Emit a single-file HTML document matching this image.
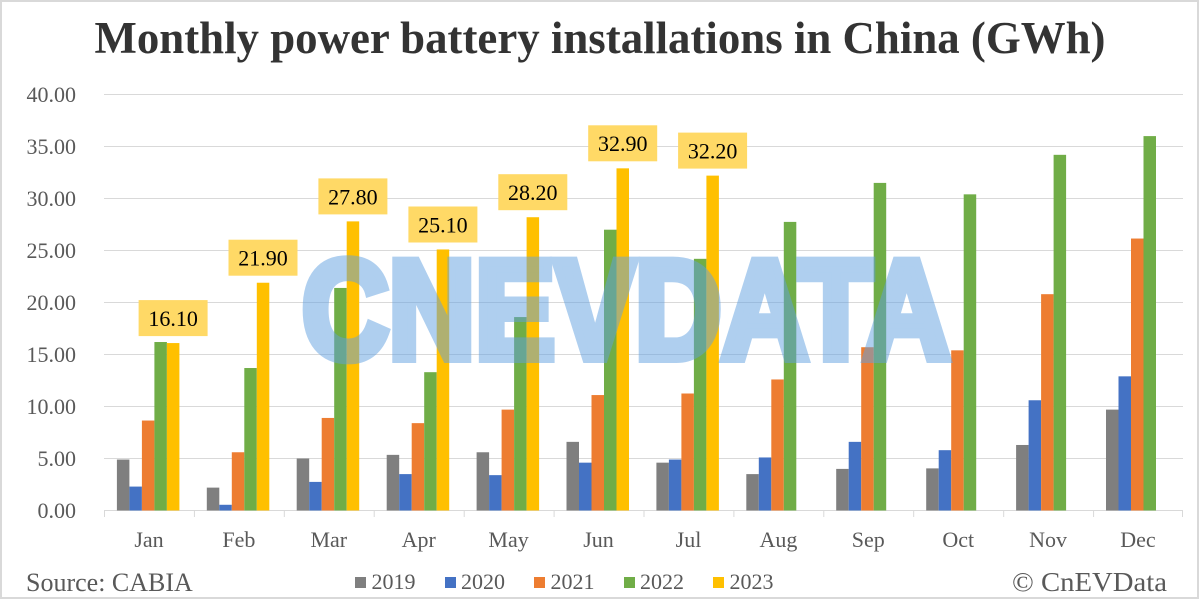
<!DOCTYPE html>
<html><head><meta charset="utf-8"><style>
html,body{margin:0;padding:0;background:#fff;}
svg{display:block;}
</style></head><body>
<svg width="1200" height="601" viewBox="0 0 1200 601" xmlns="http://www.w3.org/2000/svg">
<rect x="0" y="0" width="1200" height="601" fill="#fff"/>
<rect x="1" y="1" width="1197" height="597" fill="none" stroke="#d9d9d9" stroke-width="2"/>
<text x="600" y="53" text-anchor="middle" font-family="Liberation Serif, serif" font-weight="bold" font-size="45" fill="#333" textLength="1011" lengthAdjust="spacingAndGlyphs">Monthly power battery installations in China (GWh)</text>
<g stroke="#d9d9d9" stroke-width="1">
<line x1="104" y1="94.5" x2="1183" y2="94.5"/>
<line x1="104" y1="146.5" x2="1183" y2="146.5"/>
<line x1="104" y1="198.5" x2="1183" y2="198.5"/>
<line x1="104" y1="250.5" x2="1183" y2="250.5"/>
<line x1="104" y1="302.5" x2="1183" y2="302.5"/>
<line x1="104" y1="354.5" x2="1183" y2="354.5"/>
<line x1="104" y1="406.5" x2="1183" y2="406.5"/>
<line x1="104" y1="458.5" x2="1183" y2="458.5"/>
<line x1="104" y1="510.5" x2="1183" y2="510.5"/>
<line x1="104.5" y1="510" x2="104.5" y2="517"/>
<line x1="194.4" y1="510" x2="194.4" y2="517"/>
<line x1="284.3" y1="510" x2="284.3" y2="517"/>
<line x1="374.2" y1="510" x2="374.2" y2="517"/>
<line x1="464.2" y1="510" x2="464.2" y2="517"/>
<line x1="554.1" y1="510" x2="554.1" y2="517"/>
<line x1="644" y1="510" x2="644" y2="517"/>
<line x1="733.9" y1="510" x2="733.9" y2="517"/>
<line x1="823.8" y1="510" x2="823.8" y2="517"/>
<line x1="913.7" y1="510" x2="913.7" y2="517"/>
<line x1="1003.7" y1="510" x2="1003.7" y2="517"/>
<line x1="1093.6" y1="510" x2="1093.6" y2="517"/>
<line x1="1182.5" y1="510" x2="1182.5" y2="517"/>
</g>
<g font-family="Liberation Serif, serif" font-size="22" fill="#595959" text-anchor="end">
<text x="76" y="102">40.00</text>
<text x="76" y="154">35.00</text>
<text x="76" y="206">30.00</text>
<text x="76" y="258">25.00</text>
<text x="76" y="310">20.00</text>
<text x="76" y="362">15.00</text>
<text x="76" y="414">10.00</text>
<text x="76" y="466">5.00</text>
<text x="76" y="518">0.00</text>
</g>
<g font-family="Liberation Serif, serif" font-size="22" fill="#595959" text-anchor="middle">
<text x="149" y="547">Jan</text>
<text x="238.9" y="547">Feb</text>
<text x="328.8" y="547">Mar</text>
<text x="418.7" y="547">Apr</text>
<text x="508.6" y="547">May</text>
<text x="598.5" y="547">Jun</text>
<text x="688.5" y="547">Jul</text>
<text x="778.4" y="547">Aug</text>
<text x="868.3" y="547">Sep</text>
<text x="958.2" y="547">Oct</text>
<text x="1048.1" y="547">Nov</text>
<text x="1138" y="547">Dec</text>
</g>
<g transform="translate(116.9,510.5) scale(1,-10.4)"><rect x="0" y="0" width="12.5" height="4.9" fill="#7f7f7f"/><rect x="12.5" y="0" width="12.5" height="2.3" fill="#4472c4"/><rect x="25" y="0" width="12.5" height="8.65" fill="#ed7d31"/><rect x="37.5" y="0" width="12.5" height="16.2" fill="#70ad47"/><rect x="50" y="0" width="12.5" height="16.1" fill="#ffc000"/></g>
<g transform="translate(206.8,510.5) scale(1,-10.4)"><rect x="0" y="0" width="12.5" height="2.2" fill="#7f7f7f"/><rect x="12.5" y="0" width="12.5" height="0.55" fill="#4472c4"/><rect x="25" y="0" width="12.5" height="5.6" fill="#ed7d31"/><rect x="37.5" y="0" width="12.5" height="13.7" fill="#70ad47"/><rect x="50" y="0" width="12.5" height="21.9" fill="#ffc000"/></g>
<g transform="translate(296.7,510.5) scale(1,-10.4)"><rect x="0" y="0" width="12.5" height="5.0" fill="#7f7f7f"/><rect x="12.5" y="0" width="12.5" height="2.75" fill="#4472c4"/><rect x="25" y="0" width="12.5" height="8.9" fill="#ed7d31"/><rect x="37.5" y="0" width="12.5" height="21.4" fill="#70ad47"/><rect x="50" y="0" width="12.5" height="27.8" fill="#ffc000"/></g>
<g transform="translate(386.7,510.5) scale(1,-10.4)"><rect x="0" y="0" width="12.5" height="5.35" fill="#7f7f7f"/><rect x="12.5" y="0" width="12.5" height="3.5" fill="#4472c4"/><rect x="25" y="0" width="12.5" height="8.4" fill="#ed7d31"/><rect x="37.5" y="0" width="12.5" height="13.3" fill="#70ad47"/><rect x="50" y="0" width="12.5" height="25.1" fill="#ffc000"/></g>
<g transform="translate(476.6,510.5) scale(1,-10.4)"><rect x="0" y="0" width="12.5" height="5.6" fill="#7f7f7f"/><rect x="12.5" y="0" width="12.5" height="3.4" fill="#4472c4"/><rect x="25" y="0" width="12.5" height="9.7" fill="#ed7d31"/><rect x="37.5" y="0" width="12.5" height="18.6" fill="#70ad47"/><rect x="50" y="0" width="12.5" height="28.2" fill="#ffc000"/></g>
<g transform="translate(566.5,510.5) scale(1,-10.4)"><rect x="0" y="0" width="12.5" height="6.6" fill="#7f7f7f"/><rect x="12.5" y="0" width="12.5" height="4.6" fill="#4472c4"/><rect x="25" y="0" width="12.5" height="11.1" fill="#ed7d31"/><rect x="37.5" y="0" width="12.5" height="27.0" fill="#70ad47"/><rect x="50" y="0" width="12.5" height="32.9" fill="#ffc000"/></g>
<g transform="translate(656.4,510.5) scale(1,-10.4)"><rect x="0" y="0" width="12.5" height="4.6" fill="#7f7f7f"/><rect x="12.5" y="0" width="12.5" height="4.9" fill="#4472c4"/><rect x="25" y="0" width="12.5" height="11.25" fill="#ed7d31"/><rect x="37.5" y="0" width="12.5" height="24.2" fill="#70ad47"/><rect x="50" y="0" width="12.5" height="32.2" fill="#ffc000"/></g>
<g transform="translate(746.3,510.5) scale(1,-10.4)"><rect x="0" y="0" width="12.5" height="3.5" fill="#7f7f7f"/><rect x="12.5" y="0" width="12.5" height="5.1" fill="#4472c4"/><rect x="25" y="0" width="12.5" height="12.6" fill="#ed7d31"/><rect x="37.5" y="0" width="12.5" height="27.75" fill="#70ad47"/></g>
<g transform="translate(836.2,510.5) scale(1,-10.4)"><rect x="0" y="0" width="12.5" height="4.0" fill="#7f7f7f"/><rect x="12.5" y="0" width="12.5" height="6.6" fill="#4472c4"/><rect x="25" y="0" width="12.5" height="15.7" fill="#ed7d31"/><rect x="37.5" y="0" width="12.5" height="31.5" fill="#70ad47"/></g>
<g transform="translate(926.2,510.5) scale(1,-10.4)"><rect x="0" y="0" width="12.5" height="4.05" fill="#7f7f7f"/><rect x="12.5" y="0" width="12.5" height="5.8" fill="#4472c4"/><rect x="25" y="0" width="12.5" height="15.4" fill="#ed7d31"/><rect x="37.5" y="0" width="12.5" height="30.4" fill="#70ad47"/></g>
<g transform="translate(1016.1,510.5) scale(1,-10.4)"><rect x="0" y="0" width="12.5" height="6.3" fill="#7f7f7f"/><rect x="12.5" y="0" width="12.5" height="10.6" fill="#4472c4"/><rect x="25" y="0" width="12.5" height="20.8" fill="#ed7d31"/><rect x="37.5" y="0" width="12.5" height="34.2" fill="#70ad47"/></g>
<g transform="translate(1106,510.5) scale(1,-10.4)"><rect x="0" y="0" width="12.5" height="9.7" fill="#7f7f7f"/><rect x="12.5" y="0" width="12.5" height="12.9" fill="#4472c4"/><rect x="25" y="0" width="12.5" height="26.15" fill="#ed7d31"/><rect x="37.5" y="0" width="12.5" height="36.0" fill="#70ad47"/></g>
<g fill="#ffd966">
<rect x="138.6" y="300.1" width="69" height="36"/>
<rect x="228.5" y="239.7" width="69" height="36"/>
<rect x="318.4" y="178.4" width="69" height="36"/>
<rect x="408.4" y="206.5" width="69" height="36"/>
<rect x="498.3" y="174.2" width="69" height="36"/>
<rect x="588.2" y="125.3" width="69" height="36"/>
<rect x="678.1" y="132.6" width="69" height="36"/>
</g>
<g font-family="Liberation Serif, serif" font-size="22" fill="#000" text-anchor="middle">
<text x="173.1" y="326">16.10</text>
<text x="263" y="265.6">21.90</text>
<text x="352.9" y="204.3">27.80</text>
<text x="442.9" y="232.4">25.10</text>
<text x="532.8" y="200.1">28.20</text>
<text x="622.7" y="151.2">32.90</text>
<text x="712.6" y="158.5">32.20</text>
</g>
<g opacity="0.5">
<text x="302" y="358" font-family="Liberation Sans, sans-serif" font-weight="bold" font-size="140" fill="rgb(97,161,225)" stroke="rgb(97,161,225)" stroke-width="10" stroke-linejoin="miter" textLength="648" lengthAdjust="spacingAndGlyphs">CNEVDATA</text>
</g>
<g font-family="Liberation Serif, serif" font-size="22" fill="#595959">
<rect x="355" y="577" width="11" height="11" fill="#7f7f7f"/><text x="371.5" y="589">2019</text>
<rect x="445" y="577" width="11" height="11" fill="#4472c4"/><text x="461" y="589">2020</text>
<rect x="534" y="577" width="11" height="11" fill="#ed7d31"/><text x="550.5" y="589">2021</text>
<rect x="624" y="577" width="11" height="11" fill="#70ad47"/><text x="640" y="589">2022</text>
<rect x="713" y="577" width="11" height="11" fill="#ffc000"/><text x="729.5" y="589">2023</text>
</g>
<text x="26" y="591" font-family="Liberation Serif, serif" font-size="26" fill="#595959">Source: CABIA</text>
<text x="1167" y="591" text-anchor="end" font-family="Liberation Serif, serif" font-size="27" fill="#595959" textLength="155" lengthAdjust="spacingAndGlyphs">© CnEVData</text>
</svg>
</body></html>
